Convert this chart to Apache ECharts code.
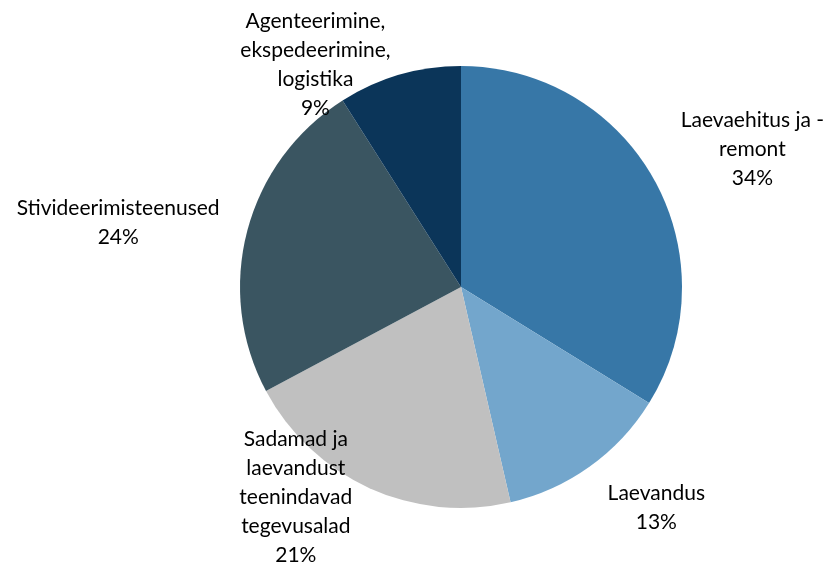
<!DOCTYPE html>
<html>
<head>
<meta charset="utf-8">
<script src="https://cdn.jsdelivr.net/npm/echarts@6/dist/echarts.min.js"></script>
<style>
  html, body { margin: 0; padding: 0; background: #fff; }
  #chart { width: 827px; height: 567px; }
</style>
</head>
<body>
<div id="chart"></div>
<script>
// sektorid (kellaosuti suunas alates ülevalt)
const sectorNames = [
  'Laevaehitus ja -\nremont',
  'Laevandus',
  'Sadamad ja\nlaevandust\nteenindavad\ntegevusalad',
  'Stivideerimisteenused',
  'Agenteerimine,\nekspedeerimine,\nlogistika'
];
const sectorValues = [33.8, 12.6, 20.8, 23.8, 9.0];
const sectorColors = ['#3777a7', '#73a6cc', '#c0c0c0', '#3a5561', '#0b3559'];

const CX = 461, CY = 287, R = 221;
// sildi nihked (px), et sobituks Exceli paigutusega
const labelNudge = [[10, -25], [4, 33], [-5, 0], [-10, -5], [2, 0]];

const total = sectorValues.reduce((a, b) => a + b, 0);
const midAngles = [];
let acc = 0;
sectorValues.forEach((v) => {
  midAngles.push(((acc + v / 2) / total) * Math.PI * 2);
  acc += v;
});

const chart = echarts.init(document.getElementById('chart'));
chart.setOption({
  animation: false,
  series: [{
    type: 'pie',
    center: [CX, CY],
    radius: R,
    startAngle: 90,
    clockwise: true,
    data: sectorNames.map((n, i) => ({
      name: n,
      value: sectorValues[i],
      itemStyle: { color: sectorColors[i] }
    })),
    label: {
      show: true,
      position: 'outside',
      alignTo: 'none',
      overflow: 'none',
      color: '#000',
      fontFamily: 'Lato, "Open Sans", sans-serif',
      fontSize: 21,
      lineHeight: 29,
      align: 'center',
      formatter: (p) => p.name + '\n' + Math.round(p.percent) + '%'
    },
    labelLine: { show: false },
    labelLayout: (p) => {
      const i = p.dataIndex;
      const a = midAngles[i];
      const dx = Math.sin(a), dy = -Math.cos(a);
      const w = p.labelRect.width;
      const px = CX + (R + 10) * dx, py = CY + (R + 10) * dy;
      return {
        x: px + Math.sign(dx) * (w / 2 + 8) + labelNudge[i][0],
        y: py + labelNudge[i][1],
        align: 'center',
        verticalAlign: 'middle'
      };
    }
  }]
});
</script>
</body>
</html>
